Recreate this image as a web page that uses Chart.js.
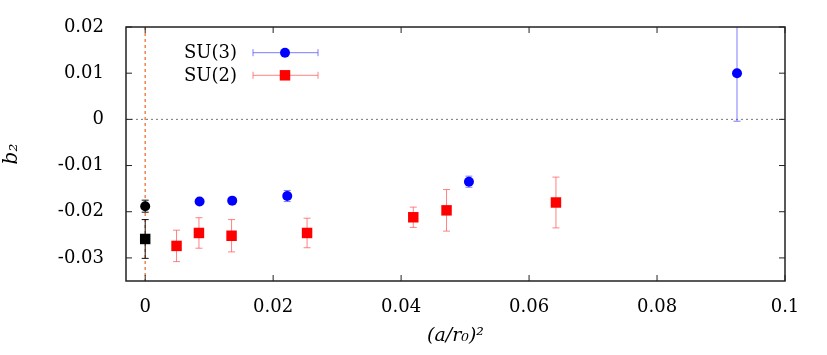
<!DOCTYPE html>
<html>
<head>
<meta charset="utf-8">
<script src="https://cdn.jsdelivr.net/npm/chart.js@4"></script>
<style>
    html, body { margin: 0; padding: 0; background: #fff; }
    #wrap { width: 827px; height: 355px; }
</style>
</head>
<body>
<div id="wrap"><canvas id="chart"></canvas></div>
<script>
// tick positions
const xTicks = [0, 0.02, 0.04, 0.06, 0.08, 0.1];
const yTicks = [-0.03, -0.02, -0.01, 0, 0.01, 0.02];

const seriesNames = ['SU(3)', 'SU(2)'];

// SU(3) lattice points
const su3X = [0.0085, 0.0136, 0.0222, 0.0506, 0.0925];
const su3Y = [-0.0178, -0.0176, -0.0166, -0.0135, 0.0100];
const su3Err = [0.0004, 0.0004, 0.0012, 0.0012, 0.0104];

// SU(2) lattice points
const su2X = [0.0049, 0.0084, 0.0135, 0.0253, 0.0419, 0.0471, 0.0642];
const su2Y = [-0.0274, -0.0246, -0.0252, -0.0246, -0.0212, -0.0197, -0.0180];
const su2Err = [0.0034, 0.0033, 0.0035, 0.0032, 0.0022, 0.0045, 0.0055];

// continuum extrapolations (SU(3) circle, SU(2) square)
const contX = [0, 0];
const contY = [-0.0188, -0.0259];
const contErr = [0.0013, 0.0042];

const toPoints = (xs, ys) => xs.map((v, i) => ({ x: v, y: ys[i] }));
const fmt = v => String(+Number(v).toFixed(3));

const FAMILY = "'DejaVu Serif', serif";
Chart.defaults.font.family = FAMILY;
Chart.defaults.font.size = 18;
Chart.defaults.color = '#000';

function drawMarker(ctx, style, x, y, r, color) {
    ctx.fillStyle = color;
    ctx.beginPath();
    if (style === 'circle') {
        ctx.arc(x, y, r, 0, Math.PI * 2);
    } else {
        const s = r * Math.SQRT1_2;
        ctx.rect(x - s, y - s, 2 * s, 2 * s);
    }
    ctx.fill();
}

// reference lines + vertical error bars, under the markers
const errorBars = {
    id: 'errorBars',
    beforeDatasetsDraw(chart) {
        const { ctx, chartArea: a, scales: { x, y } } = chart;
        ctx.save();
        ctx.beginPath();
        ctx.rect(a.left, a.top, a.width, a.height);
        ctx.clip();

        ctx.lineWidth = 1;
        ctx.setLineDash([2, 3]);
        ctx.strokeStyle = '#777';
        const y0 = y.getPixelForValue(0);
        ctx.beginPath();
        ctx.moveTo(a.left, y0);
        ctx.lineTo(a.right, y0);
        ctx.stroke();

        ctx.lineWidth = 1.5;
        ctx.setLineDash([3, 3]);
        ctx.strokeStyle = '#f2844f';
        const x0 = x.getPixelForValue(0);
        ctx.beginPath();
        ctx.moveTo(x0, a.top);
        ctx.lineTo(x0, a.bottom);
        ctx.stroke();
        ctx.setLineDash([]);

        chart.data.datasets.forEach(ds => {
            ctx.strokeStyle = ds.errorColor;
            ctx.lineWidth = 1;
            ds.data.forEach((p, j) => {
                const e = ds.errors[j];
                const px = x.getPixelForValue(p.x);
                const lo = y.getPixelForValue(p.y - e);
                const hi = y.getPixelForValue(p.y + e);
                ctx.beginPath();
                ctx.moveTo(px, lo);
                ctx.lineTo(px, hi);
                ctx.moveTo(px - 3.5, lo);
                ctx.lineTo(px + 3.5, lo);
                ctx.moveTo(px - 3.5, hi);
                ctx.lineTo(px + 3.5, hi);
                ctx.stroke();
            });
        });
        ctx.restore();
    }
};

// frame with inward ticks on all four sides, plus the key
const frame = {
    id: 'frame',
    afterDraw(chart) {
        const { ctx, chartArea: a, scales: { x, y } } = chart;
        ctx.save();
        ctx.strokeStyle = '#222';
        ctx.lineWidth = 1.5;
        ctx.strokeRect(a.left, a.top, a.width, a.height);
        ctx.lineWidth = 1;
        ctx.beginPath();
        xTicks.forEach(v => {
            const px = x.getPixelForValue(v);
            ctx.moveTo(px, a.bottom);
            ctx.lineTo(px, a.bottom - 6);
            ctx.moveTo(px, a.top);
            ctx.lineTo(px, a.top + 6);
        });
        yTicks.forEach(v => {
            const py = y.getPixelForValue(v);
            ctx.moveTo(a.left, py);
            ctx.lineTo(a.left + 6, py);
            ctx.moveTo(a.right, py);
            ctx.lineTo(a.right - 6, py);
        });
        ctx.stroke();

        // key
        const keys = [
            { style: 'circle', r: 5, color: '#0000ff', err: 'rgba(80,80,255,0.75)' },
            { style: 'rect', r: 7.4, color: '#ff0000', err: 'rgba(255,90,90,0.75)' }
        ];
        ctx.font = '18px ' + FAMILY;
        ctx.textAlign = 'right';
        ctx.textBaseline = 'middle';
        keys.forEach((k, i) => {
            const cy = a.top + 25.7 + i * 22.6;
            ctx.fillStyle = '#000';
            ctx.fillText(seriesNames[i], a.left + 111, cy + 1);
            const l = a.left + 127, r = a.left + 192;
            ctx.strokeStyle = k.err;
            ctx.beginPath();
            ctx.moveTo(l, cy);
            ctx.lineTo(r, cy);
            ctx.moveTo(l, cy - 3.5);
            ctx.lineTo(l, cy + 3.5);
            ctx.moveTo(r, cy - 3.5);
            ctx.lineTo(r, cy + 3.5);
            ctx.stroke();
            drawMarker(ctx, k.style, a.left + 159, cy, k.r, k.color);
        });
        ctx.restore();
    }
};

new Chart(document.getElementById('chart'), {
    type: 'scatter',
    data: {
        datasets: [
            {
                label: seriesNames[0],
                data: toPoints(su3X, su3Y),
                errors: su3Err,
                errorColor: 'rgba(80,80,255,0.75)',
                pointStyle: 'circle',
                pointRadius: 5,
                backgroundColor: '#0000ff',
                borderWidth: 0
            },
            {
                label: seriesNames[1],
                data: toPoints(su2X, su2Y),
                errors: su2Err,
                errorColor: 'rgba(255,90,90,0.75)',
                pointStyle: 'rect',
                pointRadius: 7.4,
                backgroundColor: '#ff0000',
                borderWidth: 0
            },
            {
                label: 'continuum',
                data: toPoints(contX, contY),
                errors: contErr,
                errorColor: '#111',
                pointStyle: ['circle', 'rect'],
                pointRadius: [5, 7.4],
                backgroundColor: '#000',
                borderWidth: 0
            }
        ]
    },
    options: {
        responsive: true,
        maintainAspectRatio: false,
        animation: false,
        layout: { padding: { top: 27, right: 42, left: 0, bottom: 0 } },
        plugins: {
            legend: { display: false },
            tooltip: { enabled: false }
        },
        scales: {
            x: {
                type: 'linear',
                min: -0.003,
                max: 0.1,
                grid: { display: false },
                border: { display: false },
                afterBuildTicks: s => { s.ticks = xTicks.map(v => ({ value: v })); },
                afterFit: s => { s.height = 74; },
                ticks: { padding: 8, maxRotation: 0, callback: fmt },
                title: {
                    display: true,
                    text: '(a/r\u2080)\u00b2',
                    font: { style: 'italic', size: 19 },
                    padding: { top: 0, bottom: 8 }
                }
            },
            y: {
                type: 'linear',
                min: -0.035,
                max: 0.02,
                grid: { display: false },
                border: { display: false },
                afterBuildTicks: s => { s.ticks = yTicks.map(v => ({ value: v })); },
                afterFit: s => { s.width = 126; },
                ticks: { padding: 14, callback: fmt },
                title: {
                    display: true,
                    text: 'b\u0304\u2082',
                    font: { style: 'italic', size: 20 },
                    padding: { top: 0, bottom: 10 }
                }
            }
        }
    },
    plugins: [errorBars, frame]
});
</script>
</body>
</html>
